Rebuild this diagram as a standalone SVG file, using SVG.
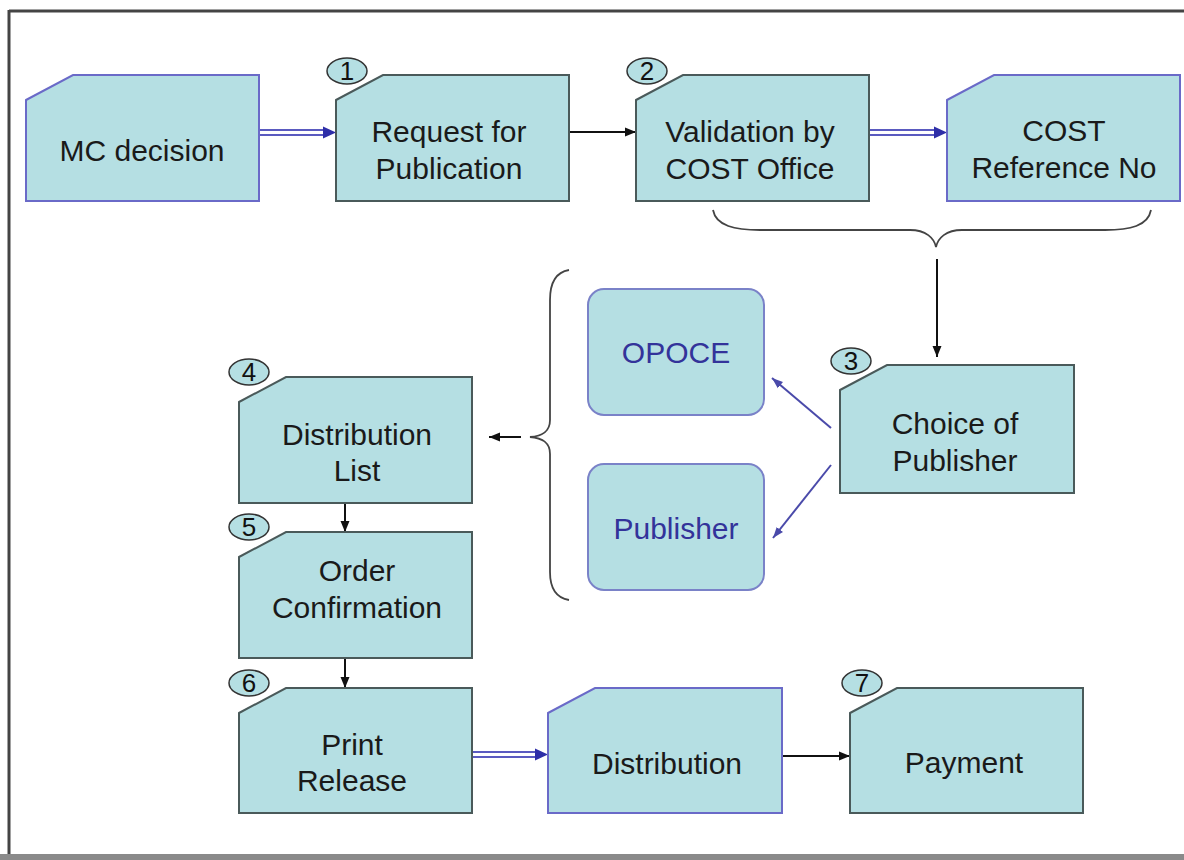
<svg xmlns="http://www.w3.org/2000/svg" width="1184" height="860" viewBox="0 0 1184 860">
<style>
.card{fill:#b5dfe3;stroke:#4a5a5a;stroke-width:2}
.cardb{fill:#b5dfe3;stroke:#6a6ac8;stroke-width:2}
.rr{fill:#b5dfe3;stroke:#7a82c8;stroke-width:2}
.t{font-family:"Liberation Sans",Arial,sans-serif;font-size:30px;fill:#1a1a1a;text-anchor:middle}
.tb{font-family:"Liberation Sans",Arial,sans-serif;font-size:30px;fill:#33339a;text-anchor:middle}
.num{font-family:"Liberation Sans",Arial,sans-serif;font-size:26px;fill:#111;text-anchor:middle}
.badge{fill:#b5dfe3;stroke:#333;stroke-width:1.5}
.blk{stroke:#111;stroke-width:2;fill:none}
.dbl{stroke:#5a5ac0;stroke-width:2;fill:none}
.blu{stroke:#4a4aaa;stroke-width:2;fill:none}
.brace{stroke:#444;stroke-width:1.8;fill:none}
</style>
<defs>
<marker id="ab" markerWidth="12" markerHeight="12" refX="11" refY="6" orient="auto" markerUnits="userSpaceOnUse">
<path d="M0,1.5 L11,6 L0,10.5 Z" fill="#111"/>
</marker>
<marker id="au" markerWidth="14" markerHeight="14" refX="13" refY="7" orient="auto" markerUnits="userSpaceOnUse">
<path d="M0,1 L13,7 L0,13 Z" fill="#2e2ea8"/>
</marker>
<marker id="ap" markerWidth="12" markerHeight="12" refX="11" refY="6" orient="auto" markerUnits="userSpaceOnUse">
<path d="M0,2 L11,6 L0,10 Z" fill="#4a4aaa"/>
</marker>
</defs>
<rect width="1184" height="860" fill="#ffffff"/>
<g id="frame">
<line x1="9" y1="11" x2="1184" y2="11" stroke="#444" stroke-width="3"/>
<line x1="9" y1="10" x2="9" y2="856" stroke="#444" stroke-width="3"/>
<rect x="0" y="854" width="1184" height="6" fill="#8a8a8a"/>
</g>
<g id="connectors">
<line x1="260" y1="130" x2="324" y2="130" class="dbl"/>
<line x1="260" y1="135" x2="324" y2="135" class="dbl"/>
<line x1="318" y1="132.5" x2="336" y2="132.5" stroke="none" marker-end="url(#au)"/>
<line x1="569" y1="132" x2="636" y2="132" class="blk" marker-end="url(#ab)"/>
<line x1="870" y1="130" x2="935" y2="130" class="dbl"/>
<line x1="870" y1="135" x2="935" y2="135" class="dbl"/>
<line x1="929" y1="132.5" x2="947" y2="132.5" stroke="none" marker-end="url(#au)"/>
<path class="brace" d="M713,210 C716,226 735,230 760,230 L910,230 C926,230 934,238 936,247 C938,238 946,230 962,230 L1105,230 C1130,230 1148,226 1151,210"/>
<line x1="937" y1="259" x2="937" y2="357" class="blk" marker-end="url(#ab)"/>
<line x1="831" y1="428" x2="772" y2="378" class="blu" marker-end="url(#ap)"/>
<line x1="831" y1="465" x2="773" y2="538" class="blu" marker-end="url(#ap)"/>
<path class="brace" d="M569,270 C557,272 550,282 550,300 L550,420 C550,432 542,436 530,437 C542,438 550,442 550,454 L550,572 C550,590 557,598 569,600"/>
<line x1="521" y1="437" x2="489" y2="437" class="blk" marker-end="url(#ab)"/>
<line x1="345" y1="503" x2="345" y2="532" class="blk" marker-end="url(#ab)"/>
<line x1="345" y1="658" x2="345" y2="688" class="blk" marker-end="url(#ab)"/>
<line x1="473" y1="752" x2="536" y2="752" class="dbl"/>
<line x1="473" y1="757" x2="536" y2="757" class="dbl"/>
<line x1="530" y1="754.5" x2="548" y2="754.5" stroke="none" marker-end="url(#au)"/>
<line x1="782" y1="756" x2="850" y2="756" class="blk" marker-end="url(#ab)"/>
</g>
<g id="mc-decision">
<path class="cardb" d="M26,100 L73,75 L259,75 L259,201 L26,201 Z"/>
<text class="t" x="142" y="161">MC decision</text>
</g>
<g id="request">
<path class="card" d="M336,100 L383,75 L569,75 L569,201 L336,201 Z"/>
<ellipse class="badge" cx="347" cy="71" rx="20" ry="13"/>
<text class="num" x="347" y="80">1</text>
<text class="t" x="449" y="142">Request for</text>
<text class="t" x="449" y="179">Publication</text>
</g>
<g id="validation">
<path class="card" d="M636,100 L683,75 L869,75 L869,201 L636,201 Z"/>
<ellipse class="badge" cx="647" cy="71" rx="20" ry="13"/>
<text class="num" x="647" y="80">2</text>
<text class="t" x="750" y="142">Validation by</text>
<text class="t" x="750" y="179">COST Office</text>
</g>
<g id="cost-ref">
<path class="cardb" d="M947,100 L994,75 L1180,75 L1180,201 L947,201 Z"/>
<text class="t" x="1064" y="141">COST</text>
<text class="t" x="1064" y="178">Reference No</text>
</g>
<g id="opoce">
<rect class="rr" x="588" y="289" width="176" height="126" rx="16"/>
<text class="tb" x="676" y="363">OPOCE</text>
</g>
<g id="publisher">
<rect class="rr" x="588" y="464" width="176" height="126" rx="16"/>
<text class="tb" x="676" y="539">Publisher</text>
</g>
<g id="choice">
<path class="card" d="M840,390 L887,365 L1074,365 L1074,493 L840,493 Z"/>
<ellipse class="badge" cx="851" cy="361" rx="20" ry="13"/>
<text class="num" x="851" y="370">3</text>
<text class="t" x="955" y="434">Choice of</text>
<text class="t" x="955" y="471">Publisher</text>
</g>
<g id="distribution-list">
<path class="card" d="M239,402 L286,377 L472,377 L472,503 L239,503 Z"/>
<ellipse class="badge" cx="249" cy="372" rx="20" ry="13"/>
<text class="num" x="249" y="381">4</text>
<text class="t" x="357" y="445">Distribution</text>
<text class="t" x="357" y="481">List</text>
</g>
<g id="order">
<path class="card" d="M239,557 L286,532 L472,532 L472,658 L239,658 Z"/>
<ellipse class="badge" cx="249" cy="527" rx="20" ry="13"/>
<text class="num" x="249" y="536">5</text>
<text class="t" x="357" y="581">Order</text>
<text class="t" x="357" y="618">Confirmation</text>
</g>
<g id="print">
<path class="card" d="M239,713 L286,688 L472,688 L472,813 L239,813 Z"/>
<ellipse class="badge" cx="249" cy="683" rx="20" ry="13"/>
<text class="num" x="249" y="692">6</text>
<text class="t" x="352" y="755">Print</text>
<text class="t" x="352" y="791">Release</text>
</g>
<g id="distribution">
<path class="cardb" d="M548,713 L595,688 L782,688 L782,813 L548,813 Z"/>
<text class="t" x="667" y="774">Distribution</text>
</g>
<g id="payment">
<path class="card" d="M850,713 L897,688 L1083,688 L1083,813 L850,813 Z"/>
<ellipse class="badge" cx="862" cy="683" rx="20" ry="13"/>
<text class="num" x="862" y="692">7</text>
<text class="t" x="964" y="773">Payment</text>
</g>
</svg>
